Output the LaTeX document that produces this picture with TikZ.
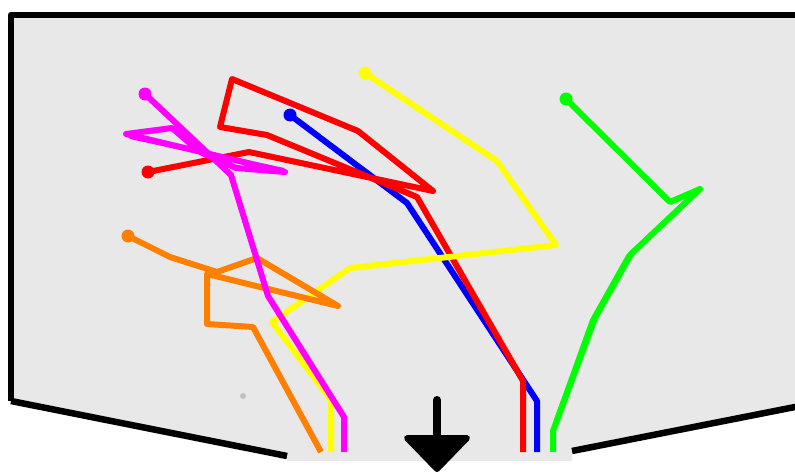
\documentclass[tikz,border=0pt]{standalone}
\begin{document}
\begin{tikzpicture}[x=1pt,y=-1pt,
  trail/.style={line width=6pt,line join=round,line cap=butt},
  frame/.style={line width=6.5pt,line join=round}]
\definecolor{panel}{HTML}{E8E8E8}
\definecolor{pmag}{HTML}{FF00FF}
\definecolor{pyel}{HTML}{FFFF00}
\definecolor{porg}{HTML}{FF8000}
\definecolor{pgrn}{HTML}{00FF00}
\definecolor{pblu}{HTML}{0000FF}
\definecolor{pred}{HTML}{FF0000}
\useasboundingbox (0,0) rectangle (795,474);

% panel background
\fill[panel] (11,15) -- (800,15) -- (800,406) -- (572,451) -- (572,461)
  -- (287,461) -- (287,456) -- (11,401) -- cycle;
% panel outline
\draw[frame] (11,401) -- (11,15) -- (800,15);
\draw[frame] (11,401) -- (287,456);
\draw[frame] (572,451) -- (800,406);

% start points
\coordinate (sBlue) at (290,115);
\coordinate (sRed) at (148,172);
\coordinate (sYel) at (365,73);
\coordinate (sOrg) at (128,236);
\coordinate (sMag) at (145,94);
\coordinate (sGrn) at (566,99);

% blue trail
\draw[trail,pblu] (sBlue) -- (407,203) -- (537,401) -- (537,452);
\fill[pblu] (sBlue) circle[radius=6.5pt];

% red trail
\draw[trail,pred] (sRed) -- (249,152) -- (433,191) -- (358,131) -- (232,79)
  -- (220,127) -- (267,135) -- (417,197) -- (523,381) -- (523,452);
\fill[pred] (sRed) circle[radius=6.5pt];

% yellow trail
\draw[trail,pyel] (sYel) -- (497,161) -- (556,245) -- (350,268) -- (272,322)
  -- (331,400) -- (331,452);
\fill[pyel] (sYel) circle[radius=6.5pt];

% orange trail
\draw[trail,porg] (sOrg) -- (170,257) -- (217,272) -- (257,258) -- (338,306)
  -- (207,274) -- (207,324) -- (253,327) -- (321,452);
\fill[porg] (sOrg) circle[radius=6.5pt];

% magenta trail
\draw[trail,pmag] (sMag) -- (231,175) -- (268,296) -- (344,417) -- (344,452);
\draw[trail,pmag] (285,172) -- (126,134) -- (172,128) -- (200,152) -- (236,168) -- cycle;
\draw[trail,pmag,line width=4pt] (130,137) -- (284,170);
\fill[pmag] (sMag) circle[radius=6.5pt];

% green trail
\draw[trail,pgrn] (sGrn) -- (670,202) -- (700,189) -- (631,254) -- (595,318)
  -- (553,431) -- (553,452);
\draw[trail,pgrn,line width=4pt] (697,191) -- (628,256) -- (592,320) -- (556,420);
\fill[pgrn] (sGrn) circle[radius=6.5pt];

% small gray mark
\fill[black!25] (243,396) circle[radius=3pt];

% exit arrow
\draw[line width=8pt,line cap=round] (437,400) -- (437,440);
\fill[line width=6pt,line join=round,draw] (407,438) -- (467,438) -- (437,469) -- cycle;
\end{tikzpicture}
\end{document}
